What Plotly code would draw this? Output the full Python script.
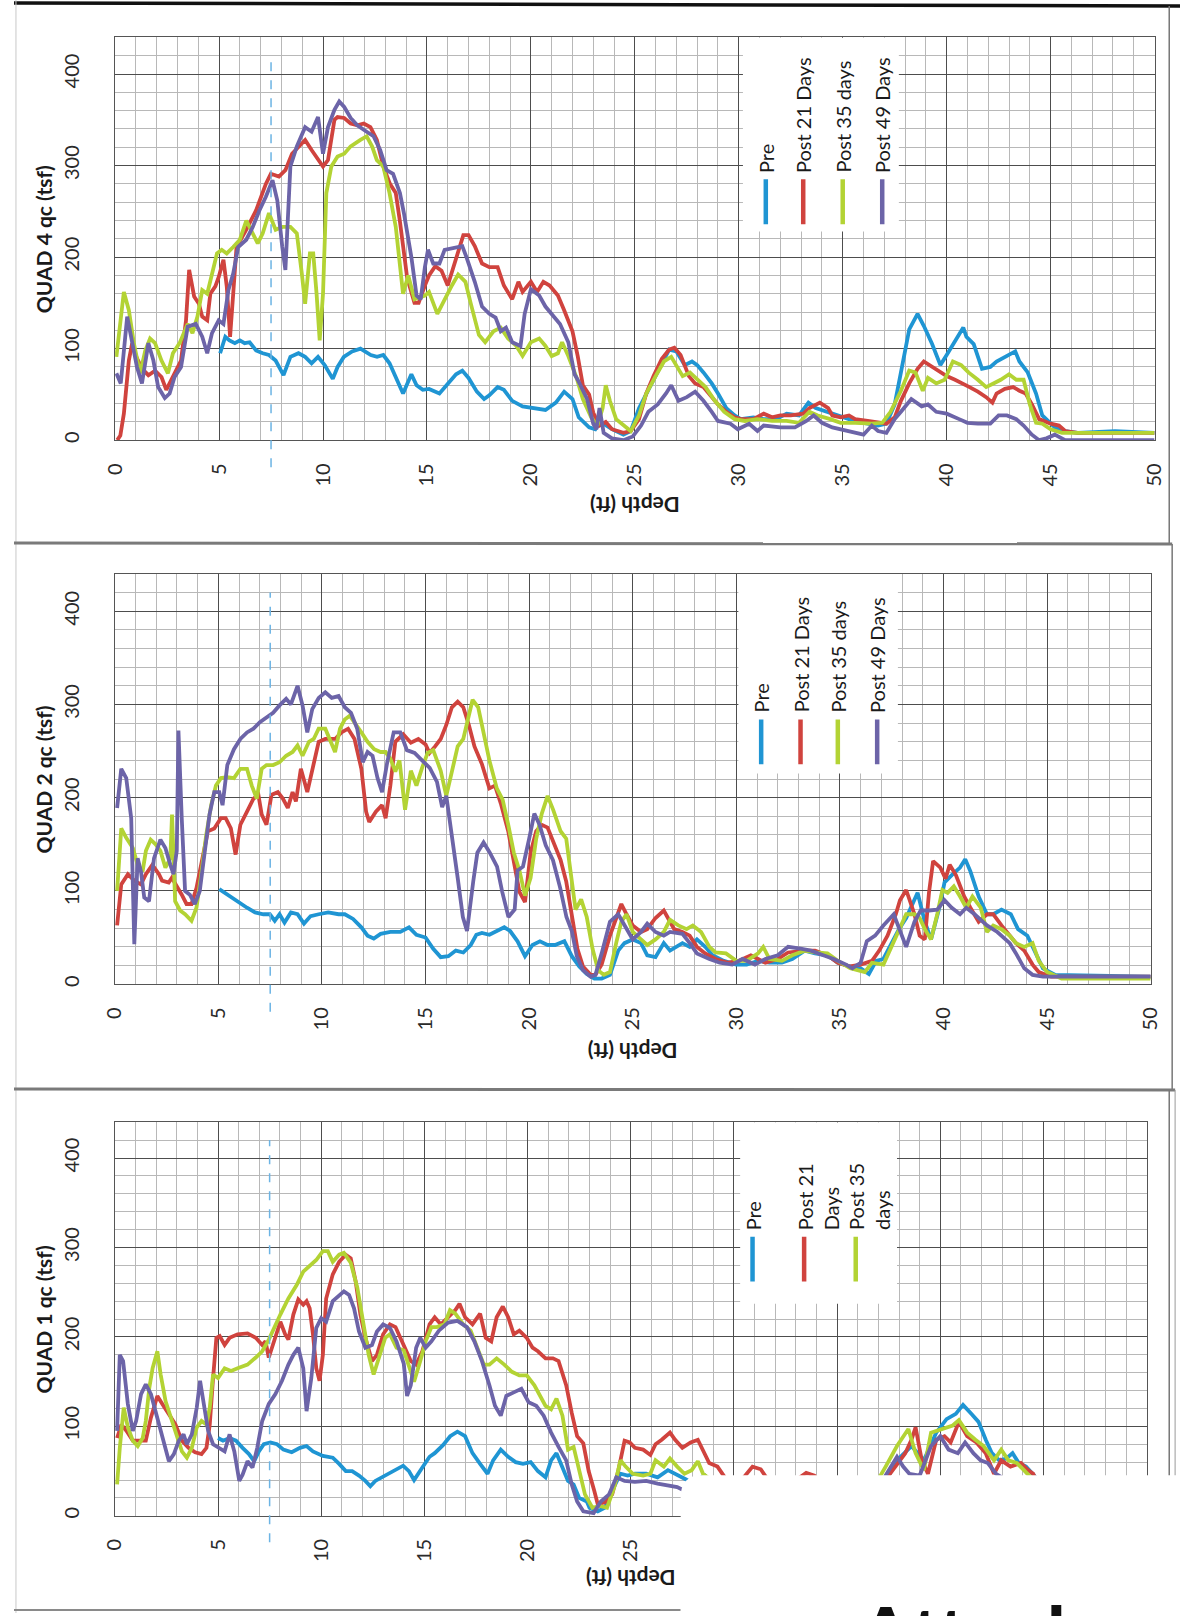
import plotly.graph_objects as go

W, H = 1191, 1616
FONT = "Lato, 'Open Sans', sans-serif"

# ---------------- data ----------------
depth_ticks = list(range(0, 51, 5))
qc_ticks = [0, 100, 200, 300, 400]
series_names = ["Pre", "Post 21 Days", "Post 35 days", "Post 49 Days"]
series_colors = ["#1f95d3", "#d0433e", "#b3d334", "#6c64a8"]
panel_titles = ["QUAD 4 qc (tsf)", "QUAD 2 qc (tsf)", "QUAD 1 qc (tsf)"]
q1_legend_labels = ["Pre", "Post 21<br>Days", "Post 35<br>days"]

# QUAD 4 (depth ft, qc tsf)
q4_pre = [(5.05,95),(5.3,113),(5.5,109),(5.76,106),(6.0,109),(6.23,106),(6.47,107),(6.78,98),(7.1,95),(7.4,93),(7.72,87),(8.1,71),(8.43,91),(8.82,95),(9.14,91),(9.45,84),(9.76,91),(10.08,82),(10.47,67),(10.7,80),(11.0,91),(11.4,97),(11.8,100),(12.3,93),(12.6,91),(12.9,93),(13.2,84),(13.5,69),(13.85,51),(14.25,72),(14.5,60),(14.8,55),(15.1,56),(15.6,51),(16.0,62),(16.4,72),(16.7,76),(17.0,68),(17.4,53),(17.75,45),(18.0,49),(18.4,58),(18.7,55),(19.1,43),(19.6,37),(20.2,35),(20.7,33),(21.2,41),(21.6,53),(22.0,45),(22.3,25),(22.8,14),(23.1,12),(23.35,20),(23.9,12),(24.45,6),(24.8,10),(25.2,35),(25.55,51),(26.1,74),(26.65,99),(27.0,97),(27.4,82),(27.75,86),(28.0,82),(28.3,74),(28.7,62),(29.0,51),(29.4,35),(29.8,27),(30.1,23),(30.7,25),(31.2,23),(31.8,23),(32.3,29),(32.9,27),(33.35,41),(33.7,35),(34.2,31),(34.7,27),(35.3,23),(36.0,19),(36.7,16),(37.1,18),(37.5,39),(37.8,74),(38.2,121),(38.6,138),(38.9,125),(39.3,105),(39.7,82),(40.0,93),(40.4,109),(40.8,123),(40.95,113),(41.3,105),(41.7,78),(42.1,80),(42.4,86),(42.8,91),(43.3,97),(43.5,86),(43.9,74),(44.3,51),(44.6,27),(45.2,14),(45.7,10),(46.3,8),(48.1,10),(50.0,8)]
q4_post21 = [(0.1,0),(0.25,5),(0.42,29),(0.66,87),(0.82,106),(1.0,92),(1.3,78),(1.6,71),(1.92,76),(2.23,69),(2.46,55),(2.86,73),(3.17,87),(3.41,131),(3.56,186),(3.8,157),(4.03,149),(4.19,135),(4.43,131),(4.58,160),(4.82,168),(4.98,178),(5.21,197),(5.37,168),(5.53,113),(5.68,160),(5.84,211),(6.31,230),(6.78,251),(7.25,280),(7.49,291),(7.88,288),(8.19,295),(8.51,313),(9.14,328),(9.45,317),(9.76,306),(10.0,299),(10.24,306),(10.55,350),(10.7,353),(11.02,352),(11.33,346),(11.65,344),(11.96,346),(12.28,342),(12.59,328),(12.9,299),(13.22,280),(13.5,270),(13.7,239),(14.05,177),(14.4,150),(14.6,150),(14.9,169),(15.1,180),(15.4,190),(15.7,185),(16.0,169),(16.4,200),(16.75,224),(17.0,224),(17.3,212),(17.65,193),(18.0,189),(18.4,189),(18.7,169),(19.1,154),(19.4,173),(19.6,162),(20.0,173),(20.3,162),(20.6,173),(20.9,169),(21.3,158),(21.6,142),(22.0,119),(22.25,92),(22.5,60),(22.8,50),(23.0,30),(23.3,16),(23.6,20),(23.9,12),(24.45,8),(24.8,10),(25.2,23),(25.55,51),(25.9,70),(26.3,89),(26.65,99),(26.9,101),(27.2,93),(27.6,70),(27.9,62),(28.3,58),(28.7,47),(29.0,39),(29.4,31),(29.8,25),(30.1,23),(30.7,23),(31.2,29),(31.6,25),(32.0,27),(32.5,27),(33.1,29),(33.4,35),(33.9,41),(34.3,35),(34.5,27),(34.9,25),(35.3,27),(35.6,23),(36.2,21),(36.7,19),(37.1,18),(37.5,25),(37.8,43),(38.2,62),(38.6,78),(38.9,86),(39.3,80),(39.7,74),(40.0,70),(40.4,66),(40.8,62),(41.1,58),(41.5,53),(41.9,47),(42.2,41),(42.4,51),(42.8,56),(43.2,58),(43.5,54),(43.8,51),(44.1,39),(44.45,23),(45.0,18),(45.4,16),(45.7,10),(46.3,8),(50.0,8)]
q4_post35 = [(0.06,91),(0.42,162),(0.66,142),(0.9,106),(1.2,73),(1.45,98),(1.68,111),(1.92,106),(2.23,87),(2.54,73),(2.78,95),(3.1,106),(3.49,127),(3.72,117),(3.96,135),(4.19,164),(4.43,160),(4.66,182),(4.9,204),(5.13,208),(5.37,204),(5.68,211),(6.0,219),(6.31,240),(6.62,226),(6.86,215),(7.1,226),(7.4,248),(7.72,230),(8.04,233),(8.43,233),(8.74,226),(8.98,182),(9.14,149),(9.37,204),(9.53,204),(9.69,160),(9.84,109),(10.0,160),(10.16,270),(10.4,299),(10.7,310),(11.02,313),(11.33,321),(11.8,328),(12.1,332),(12.36,321),(12.59,306),(12.9,299),(13.2,270),(13.5,233),(13.85,160),(14.1,180),(14.4,154),(14.9,158),(15.1,162),(15.5,138),(15.85,154),(16.2,169),(16.5,181),(16.85,173),(17.1,150),(17.5,115),(17.8,107),(18.2,119),(18.55,123),(18.9,111),(19.3,103),(19.6,92),(20.0,107),(20.4,111),(20.7,103),(21.0,92),(21.3,95),(21.5,107),(21.8,92),(22.2,68),(22.5,45),(22.9,25),(23.2,16),(23.45,35),(23.6,60),(23.8,43),(24.1,23),(24.45,16),(24.8,10),(25.2,27),(25.55,51),(26.0,70),(26.4,86),(26.75,91),(27.0,82),(27.3,70),(27.65,74),(28.0,66),(28.4,58),(28.85,43),(29.3,31),(29.8,23),(30.3,21),(30.9,23),(31.6,21),(32.3,21),(32.9,19),(33.4,31),(33.8,27),(34.4,23),(34.9,19),(35.6,19),(36.4,18),(36.9,19),(37.3,31),(37.8,54),(38.2,76),(38.5,74),(38.85,54),(39.1,68),(39.5,62),(39.9,66),(40.3,86),(40.7,82),(41.05,74),(41.5,66),(41.9,58),(42.25,62),(42.6,66),(43.0,72),(43.35,66),(43.7,66),(44.0,39),(44.3,19),(44.6,18),(45.0,12),(45.55,8),(50.0,8)]
q4_post49 = [(0.06,73),(0.27,62),(0.58,135),(0.82,106),(1.05,80),(1.29,62),(1.6,106),(1.84,87),(2.07,58),(2.39,46),(2.62,51),(2.86,69),(3.17,80),(3.49,124),(3.88,127),(4.19,113),(4.43,95),(4.66,117),(4.98,131),(5.21,127),(5.45,164),(5.68,182),(5.92,211),(6.31,219),(6.62,233),(6.94,251),(7.25,266),(7.57,284),(7.8,262),(8.04,211),(8.19,186),(8.43,299),(8.74,321),(9.14,342),(9.45,337),(9.76,353),(10.0,313),(10.24,342),(10.55,361),(10.78,370),(11.02,364),(11.33,352),(11.65,344),(12.1,337),(12.43,332),(12.75,317),(13.06,295),(13.37,291),(13.7,270),(13.9,247),(14.25,200),(14.5,158),(14.7,154),(14.9,189),(15.05,208),(15.3,193),(15.6,193),(15.85,208),(16.3,210),(16.7,212),(16.9,200),(17.3,173),(17.65,146),(18.0,138),(18.3,134),(18.55,119),(18.8,123),(19.1,107),(19.5,103),(19.7,138),(20.0,165),(20.4,158),(20.7,146),(21.1,136),(21.4,127),(21.8,107),(22.1,72),(22.3,64),(22.7,45),(23.0,18),(23.15,12),(23.3,35),(23.5,8),(23.9,2),(24.45,0),(24.9,4),(25.3,16),(25.65,31),(26.1,39),(26.5,51),(26.75,60),(27.1,43),(27.5,47),(27.9,53),(28.3,43),(28.7,31),(29.0,21),(29.6,18),(29.95,12),(30.5,18),(30.9,10),(31.2,16),(32.0,14),(32.7,14),(33.25,21),(33.6,27),(34.0,19),(34.5,14),(35.3,10),(36.0,6),(36.4,16),(36.7,10),(37.1,8),(37.5,23),(37.8,31),(38.3,45),(38.8,37),(39.1,39),(39.5,31),(40.0,29),(40.6,23),(41.0,19),(41.5,18),(42.1,18),(42.5,27),(42.9,27),(43.35,23),(43.7,16),(44.1,6),(44.45,0),(44.8,2),(45.2,6),(45.7,0),(50.0,0)]

# QUAD 2
q2_pre = [(5.04,102),(5.43,96),(5.9,89),(6.38,82),(6.77,77),(7.17,75),(7.48,75),(7.72,68),(7.95,75),(8.19,66),(8.5,77),(8.82,75),(9.13,65),(9.45,73),(9.84,75),(10.3,77),(10.8,75),(11.1,75),(11.5,70),(11.9,61),(12.2,52),(12.5,49),(12.83,54),(13.3,56),(13.78,56),(14.2,61),(14.56,53),(15.0,50),(15.37,38),(15.73,29),(16.1,30),(16.46,36),(16.82,34),(17.18,42),(17.45,53),(17.72,55),(18.08,53),(18.44,57),(18.8,61),(19.08,57),(19.44,46),(19.8,30),(20.16,42),(20.52,46),(20.89,42),(21.25,42),(21.7,46),(22.06,30),(22.42,19),(22.78,11),(23.15,6),(23.5,6),(23.9,10),(24.3,36),(24.6,44),(25.0,48),(25.4,44),(25.7,31),(26.1,29),(26.5,44),(26.8,36),(27.4,44),(27.75,40),(28.1,48),(28.5,40),(28.85,31),(29.4,25),(30.0,21),(30.5,21),(31.05,25),(31.6,23),(32.2,23),(32.7,27),(33.3,36),(33.8,33),(34.4,31),(34.9,23),(35.5,19),(36.0,17),(36.4,11),(36.75,25),(37.1,27),(37.5,44),(37.85,59),(38.2,71),(38.5,86),(38.75,98),(39.1,67),(39.4,48),(39.8,82),(40.05,109),(40.4,117),(40.8,125),(41.05,134),(41.3,121),(41.7,94),(42.1,75),(42.4,75),(42.8,80),(43.25,75),(43.6,59),(44.05,52),(44.4,36),(44.8,17),(45.4,10),(50.0,8)]
q2_post21 = [(0.11,63),(0.31,107),(0.63,118),(0.94,111),(1.26,107),(1.5,118),(1.81,128),(2.13,118),(2.28,111),(2.6,109),(2.75,114),(3.0,105),(3.23,96),(3.46,86),(3.7,86),(3.94,103),(4.25,135),(4.49,164),(4.8,167),(5.12,178),(5.35,178),(5.6,167),(5.83,139),(6.06,171),(6.38,185),(6.69,199),(6.93,203),(7.09,182),(7.32,171),(7.56,203),(7.87,206),(8.11,199),(8.35,189),(8.58,206),(8.74,196),(8.98,231),(9.29,206),(9.53,231),(9.84,260),(10.16,263),(10.63,263),(10.94,270),(11.26,274),(11.57,263),(11.9,231),(12.13,185),(12.28,174),(12.6,185),(12.9,192),(13.07,178),(13.3,213),(13.54,260),(13.92,268),(14.29,259),(14.65,263),(15.0,257),(15.19,248),(15.46,255),(15.73,263),(16.0,278),(16.27,297),(16.55,303),(16.82,297),(17.09,278),(17.36,255),(17.72,236),(18.08,210),(18.35,213),(18.63,194),(18.99,164),(19.26,133),(19.53,99),(19.8,88),(20.07,141),(20.34,164),(20.61,171),(20.89,168),(21.16,152),(21.52,133),(21.79,110),(22.06,72),(22.33,38),(22.6,19),(22.97,10),(23.2,10),(23.5,21),(23.9,52),(24.3,75),(24.45,86),(24.7,75),(25.0,63),(25.4,56),(25.7,59),(26.1,71),(26.5,79),(26.7,71),(27.0,59),(27.4,56),(27.75,52),(28.1,40),(28.5,33),(29.0,27),(29.6,23),(30.1,25),(30.7,31),(31.05,27),(31.4,23),(32.0,27),(32.5,34),(33.3,36),(33.8,36),(34.4,31),(34.9,23),(35.5,19),(36.0,21),(36.55,25),(36.9,36),(37.3,52),(37.7,75),(37.9,90),(38.2,101),(38.6,75),(38.85,52),(39.1,48),(39.3,98),(39.5,132),(39.85,125),(40.1,113),(40.3,128),(40.6,117),(41.0,94),(41.3,82),(41.7,67),(42.1,75),(42.4,75),(42.8,63),(43.2,52),(43.5,44),(43.9,36),(44.3,21),(44.6,13),(45.2,8),(50.0,8)]
q2_post35 = [(0.11,100),(0.31,167),(0.55,157),(0.87,146),(1.1,128),(1.34,121),(1.5,143),(1.73,155),(1.97,150),(2.2,143),(2.44,125),(2.68,135),(2.76,182),(2.91,89),(3.15,79),(3.39,75),(3.7,68),(3.94,82),(4.17,118),(4.41,160),(4.65,192),(4.88,213),(5.12,221),(5.43,222),(5.75,221),(6.06,231),(6.38,231),(6.61,213),(6.85,199),(7.09,231),(7.32,235),(7.64,235),(7.95,238),(8.27,245),(8.58,249),(8.82,256),(9.06,245),(9.37,260),(9.6,263),(9.84,274),(10.16,274),(10.4,260),(10.63,249),(10.87,274),(11.1,284),(11.34,288),(11.57,281),(11.9,270),(12.2,260),(12.52,252),(12.83,249),(13.07,249),(13.3,242),(13.54,228),(13.74,240),(14.01,187),(14.29,229),(14.56,213),(14.83,232),(15.1,248),(15.37,251),(15.73,229),(16.0,202),(16.27,229),(16.55,255),(16.82,263),(17.09,290),(17.27,305),(17.54,297),(17.81,270),(18.08,240),(18.44,210),(18.72,198),(18.99,171),(19.26,141),(19.53,122),(19.8,95),(20.07,114),(20.34,156),(20.61,183),(20.89,202),(21.16,187),(21.52,164),(21.79,156),(22.06,110),(22.24,80),(22.51,91),(22.78,72),(23.06,38),(23.33,15),(23.6,10),(23.9,13),(24.2,44),(24.45,67),(24.7,75),(25.0,56),(25.4,48),(25.7,42),(26.1,48),(26.5,56),(26.8,69),(27.2,63),(27.6,59),(27.9,63),(28.3,56),(28.7,40),(29.0,34),(29.5,33),(30.0,25),(30.5,25),(31.05,33),(31.3,40),(31.6,27),(32.2,25),(32.7,31),(33.3,36),(33.8,34),(34.4,33),(34.9,25),(35.5,17),(36.2,13),(36.55,23),(37.1,21),(37.5,40),(37.85,59),(38.2,75),(38.6,75),(38.85,71),(39.1,59),(39.4,48),(39.7,75),(39.95,101),(40.2,98),(40.5,105),(40.8,94),(41.1,82),(41.4,94),(41.8,82),(42.1,56),(42.4,63),(42.8,59),(43.2,52),(43.5,44),(43.9,40),(44.3,44),(44.6,25),(45.0,13),(45.7,6),(50.0,6)]
q2_post49 = [(0.11,189),(0.31,231),(0.55,221),(0.79,178),(0.94,43),(1.1,135),(1.26,121),(1.42,93),(1.65,89),(1.89,135),(2.2,155),(2.44,146),(2.68,128),(2.83,118),(2.99,143),(3.07,272),(3.23,178),(3.39,100),(3.62,96),(3.86,86),(4.1,100),(4.33,143),(4.57,182),(4.8,206),(5.04,206),(5.2,192),(5.43,235),(5.75,252),(6.06,263),(6.38,270),(6.69,274),(7.0,281),(7.32,286),(7.64,291),(7.95,299),(8.27,306),(8.5,300),(8.82,320),(9.06,299),(9.29,270),(9.53,295),(9.84,307),(10.16,313),(10.47,307),(10.8,309),(11.1,297),(11.4,291),(11.7,274),(11.97,238),(12.2,249),(12.44,245),(12.68,221),(12.9,206),(13.15,238),(13.46,270),(13.78,270),(14.1,251),(14.47,248),(14.83,240),(15.2,232),(15.55,217),(15.8,190),(16.0,202),(16.3,156),(16.55,114),(16.8,72),(17.0,57),(17.3,110),(17.5,141),(17.8,152),(18.1,141),(18.45,126),(18.7,99),(19.0,72),(19.3,80),(19.44,122),(19.7,126),(20.0,156),(20.25,183),(20.5,171),(20.8,149),(21.15,133),(21.5,103),(21.8,72),(22.06,57),(22.3,30),(22.6,15),(22.97,8),(23.2,10),(23.5,33),(23.9,67),(24.3,75),(24.6,63),(25.0,48),(25.4,56),(25.7,65),(26.1,56),(26.5,52),(26.8,56),(27.4,54),(27.75,44),(28.1,33),(28.7,27),(29.2,23),(29.8,21),(30.3,27),(30.9,21),(31.4,27),(32.0,31),(32.5,40),(33.1,38),(33.6,36),(34.2,31),(34.7,27),(35.3,21),(35.6,17),(36.0,23),(36.3,46),(36.7,52),(37.1,63),(37.6,75),(37.9,56),(38.2,40),(38.6,67),(38.9,79),(39.3,79),(39.7,80),(40.05,90),(40.4,82),(40.8,75),(41.1,82),(41.5,75),(42.1,63),(42.6,56),(43.2,44),(43.5,33),(43.9,17),(44.3,10),(44.8,8),(50.0,8)]

# QUAD 1
q1_pre = [(5.0,87),(5.24,84),(5.56,87),(5.87,84),(6.19,76),(6.5,69),(6.75,61),(6.98,72),(7.22,80),(7.54,82),(7.86,80),(8.17,74),(8.57,71),(8.97,76),(9.29,78),(9.6,72),(10.08,67),(10.56,65),(10.87,58),(11.19,50),(11.5,50),(11.83,45),(12.14,39),(12.38,33),(12.62,39),(12.94,43),(13.25,48),(13.57,52),(13.97,56),(14.25,50),(14.5,40),(14.9,54),(15.25,66),(15.5,70),(15.9,79),(16.25,89),(16.6,94),(16.97,89),(17.33,70),(17.7,58),(18.06,47),(18.33,62),(18.7,74),(19.06,66),(19.42,60),(19.78,58),(20.15,60),(20.5,50),(20.87,43),(21.14,62),(21.4,70),(21.69,54),(21.96,39),(22.23,35),(22.5,20),(22.87,16),(23.0,9),(23.4,5),(23.75,9),(24.1,28),(24.5,47),(24.85,45),(25.2,47),(25.75,47),(26.3,43),(26.8,51),(27.15,47),(27.5,43),(27.9,38),(28.25,41),(28.6,45),(29.0,35),(29.6,25),(30.3,22),(31.0,22),(32.0,20),(33.0,28),(33.8,30),(34.5,25),(35.3,20),(36.2,15),(37.0,25),(37.5,45),(37.9,62),(38.6,78),(39.2,62),(39.8,93),(40.3,108),(40.75,114),(41.1,124),(41.5,114),(41.85,105),(42.2,85),(42.5,70),(42.85,62),(43.2,64),(43.5,70),(43.8,59),(44.15,55),(44.5,47),(44.7,41),(45.2,15),(45.7,8),(50.0,8)]
q1_post21 = [(0.11,87),(0.32,102),(0.56,95),(0.87,84),(1.19,84),(1.5,84),(1.75,110),(2.06,134),(2.3,125),(2.62,113),(2.94,102),(3.25,84),(3.57,76),(3.89,71),(4.2,69),(4.44,76),(4.6,102),(4.76,154),(4.92,199),(5.08,201),(5.32,191),(5.56,199),(5.95,203),(6.43,204),(6.83,199),(7.14,191),(7.3,195),(7.46,177),(7.62,188),(7.86,206),(8.02,217),(8.25,203),(8.41,197),(8.65,225),(8.89,242),(9.13,236),(9.29,240),(9.44,232),(9.6,203),(9.76,165),(9.92,151),(10.08,180),(10.24,243),(10.56,270),(10.87,284),(11.19,292),(11.43,288),(11.67,262),(11.9,225),(12.14,199),(12.46,173),(12.7,180),(13.0,203),(13.33,214),(13.6,211),(13.97,192),(14.34,173),(14.6,169),(14.9,184),(15.25,214),(15.5,222),(15.8,214),(16.15,222),(16.5,230),(16.7,237),(16.97,222),(17.33,214),(17.7,226),(17.97,199),(18.24,195),(18.5,222),(18.8,234),(19.06,222),(19.33,203),(19.6,207),(19.96,199),(20.24,188),(20.5,184),(20.87,176),(21.23,176),(21.5,173),(21.87,146),(22.14,115),(22.4,89),(22.7,81),(22.96,50),(23.23,28),(23.4,13),(23.75,15),(24.1,24),(24.4,51),(24.7,84),(24.95,82),(25.2,76),(25.6,74),(25.95,68),(26.2,80),(26.5,85),(26.9,93),(27.15,85),(27.5,76),(27.9,82),(28.25,85),(28.5,74),(28.8,59),(29.2,55),(29.45,47),(29.8,35),(30.3,38),(30.9,55),(31.3,52),(31.8,35),(32.4,30),(33.0,40),(33.5,48),(33.9,45),(34.5,30),(35.2,25),(36.0,20),(36.6,25),(37.0,35),(37.5,45),(38.3,70),(38.6,85),(38.8,99),(39.1,62),(39.4,47),(39.8,85),(40.2,89),(40.5,82),(40.9,105),(41.3,89),(41.75,82),(42.2,70),(42.6,47),(42.95,62),(43.4,55),(43.9,59),(44.25,51),(44.5,47),(44.9,25),(45.4,12),(46.0,8),(50.0,8)]
q1_post35 = [(0.11,35),(0.24,76),(0.43,121),(0.63,99),(0.87,84),(1.11,78),(1.35,87),(1.5,106),(1.67,143),(1.83,165),(2.06,184),(2.22,158),(2.46,128),(2.78,106),(3.02,87),(3.25,72),(3.49,65),(3.73,76),(3.97,99),(4.2,106),(4.44,102),(4.6,121),(4.76,158),(5.0,154),(5.32,165),(5.63,162),(5.95,165),(6.43,169),(6.83,177),(7.14,184),(7.46,197),(7.7,208),(8.02,225),(8.41,243),(8.81,258),(9.13,273),(9.44,279),(9.76,286),(10.08,296),(10.32,296),(10.56,284),(10.87,292),(11.1,294),(11.43,283),(11.75,255),(11.98,221),(12.3,180),(12.54,158),(12.86,180),(13.1,199),(13.33,203),(13.65,188),(14.0,185),(14.34,161),(14.5,150),(14.8,173),(15.06,195),(15.34,211),(15.6,211),(15.97,214),(16.24,230),(16.5,226),(16.88,214),(17.24,207),(17.6,184),(17.88,169),(18.15,169),(18.5,176),(18.87,169),(19.24,161),(19.6,157),(19.96,157),(20.33,146),(20.6,134),(20.87,123),(21.14,119),(21.4,131),(21.69,112),(21.96,74),(22.23,77),(22.5,51),(22.78,24),(23.14,9),(23.5,11),(23.85,9),(24.2,32),(24.5,62),(24.75,55),(25.1,47),(25.6,45),(25.95,47),(26.2,62),(26.6,55),(26.9,64),(27.25,55),(27.6,47),(27.95,51),(28.25,61),(28.5,47),(29.0,38),(29.6,30),(30.3,28),(31.0,30),(31.8,28),(32.5,25),(33.2,32),(33.8,35),(34.5,28),(35.3,22),(36.0,18),(36.6,25),(37.0,40),(37.35,55),(37.9,78),(38.45,97),(38.8,70),(39.2,51),(39.55,93),(40.1,97),(40.6,101),(40.9,107),(41.3,93),(41.7,85),(42.1,78),(42.6,62),(42.95,74),(43.3,62),(43.7,59),(44.05,51),(44.5,40),(45.0,20),(45.5,10),(46.0,8),(50.0,8)]
q1_post49 = [(0.11,95),(0.24,180),(0.4,173),(0.63,125),(0.87,95),(1.03,106),(1.27,136),(1.5,147),(1.75,136),(1.98,117),(2.3,87),(2.62,61),(2.86,69),(3.1,84),(3.33,91),(3.49,80),(3.73,91),(3.97,121),(4.13,151),(4.29,125),(4.52,95),(4.76,80),(5.08,76),(5.32,72),(5.56,91),(5.79,72),(6.03,39),(6.19,46),(6.43,61),(6.67,54),(6.9,76),(7.14,106),(7.46,125),(7.78,136),(8.1,151),(8.41,169),(8.65,180),(8.89,188),(9.13,165),(9.29,117),(9.52,154),(9.76,210),(10.0,221),(10.24,217),(10.56,240),(10.87,247),(11.1,251),(11.35,247),(11.59,232),(11.83,206),(12.14,188),(12.46,191),(12.7,206),(13.0,214),(13.33,210),(13.65,195),(14.0,170),(14.16,134),(14.34,146),(14.6,188),(14.8,199),(15.06,188),(15.34,195),(15.7,207),(16.15,216),(16.6,218),(17.06,211),(17.42,195),(17.79,173),(18.15,146),(18.42,123),(18.7,112),(18.97,134),(19.33,138),(19.7,142),(20.05,127),(20.42,123),(20.78,112),(21.14,93),(21.5,77),(21.87,62),(22.14,35),(22.4,16),(22.7,5),(23.05,3),(23.2,3),(23.55,16),(23.95,24),(24.3,43),(24.7,39),(25.2,38),(25.75,39),(26.3,36),(26.8,34),(27.25,32),(27.6,28),(28.2,25),(29.0,20),(30.0,15),(31.0,15),(32.0,18),(33.0,22),(34.0,20),(35.0,15),(36.0,10),(36.8,20),(37.35,45),(37.9,66),(38.2,55),(38.5,47),(39.0,45),(39.55,78),(40.0,89),(40.4,74),(40.85,70),(41.2,82),(41.6,70),(41.95,62),(42.3,59),(42.7,47),(43.2,40),(43.8,30),(44.3,15),(45.0,5),(50.0,5)]

marker_depth = 7.5

# ---------------- layout geometry (pixels on the page) ----------------
panels = [
    dict(title=panel_titles[0], series=[q4_pre, q4_post21, q4_post35, q4_post49],
         labels=series_names, px_x=(103.3, 1165), px_y=(37.5, 441), depth_title_y=507,
         leg_x=[31.3, 33.1, 35.0, 36.9], leg_line=(236, 285), leg_text=290,
         leg_box=(30.2, 37.7, 228)),
    dict(title=panel_titles[1], series=[q2_pre, q2_post21, q2_post35, q2_post49],
         labels=series_names, px_x=(103, 1161), px_y=(575, 986), depth_title_y=1054,
         leg_x=[31.2, 33.1, 34.9, 36.8], leg_line=(236, 284), leg_text=289,
         leg_box=(30.1, 37.8, 226)),
    dict(title=panel_titles[2], series=[q1_pre, q1_post21, q1_post35, q1_post49],
         labels=q1_legend_labels, px_x=(103, 1157), px_y=(1124.4, 1518.6), depth_title_y=1582,
         leg_x=[30.9, 33.4, 35.9], leg_text_x=[30.9, 34.05, 36.55], leg_line=(262, 312), leg_text=317,
         leg_box=(30.3, 37.9, 237)),
]

def px2x(x):
    return x / W

def px2y(y):
    return 1 - y / H

fig = go.Figure()
shapes = []
annotations = []
layout_axes = {}

for i, p in enumerate(panels):
    n = i + 1
    xa = "x" if n == 1 else f"x{n}"
    ya = "y" if n == 1 else f"y{n}"
    for s_i, pairs in enumerate(p["series"]):
        fig.add_trace(go.Scatter(
            x=[d for d, _ in pairs], y=[q for _, q in pairs],
            mode="lines", line=dict(color=series_colors[s_i], width=3.8),
            name=series_names[s_i], showlegend=False, xaxis=xa, yaxis=ya,
            hoverinfo="skip"))
    xd = [px2x(p["px_x"][0]), px2x(p["px_x"][1])]
    yd = [px2y(p["px_y"][1]), px2y(p["px_y"][0])]
    layout_axes["xaxis" if n == 1 else f"xaxis{n}"] = dict(
        domain=xd, anchor=ya, range=[0, 50], tickvals=depth_ticks,
        ticktext=[str(t) for t in depth_ticks], tickangle=-90, ticks="",
        ticklabelstandoff=14,
        showgrid=True, gridcolor="#4d4d4d", gridwidth=1.3, zeroline=False,
        showline=True, mirror=True, linecolor="#555", linewidth=1.2,
        minor=dict(dtick=1, tick0=0, showgrid=True, gridcolor="#b8b8b8", gridwidth=1),
        tickfont=dict(family=FONT, size=20, color="#2a2a2a"), fixedrange=True)
    layout_axes["yaxis" if n == 1 else f"yaxis{n}"] = dict(
        domain=yd, anchor=xa, range=[0, 440], tickvals=qc_ticks,
        ticktext=[str(t) for t in qc_ticks], tickangle=-90, ticks="",
        ticklabelstandoff=27,
        showgrid=True, gridcolor="#4d4d4d", gridwidth=1.3, zeroline=False,
        showline=True, mirror=True, linecolor="#555", linewidth=1.2,
        minor=dict(dtick=20, tick0=0, showgrid=True, gridcolor="#b8b8b8", gridwidth=1),
        tickfont=dict(family=FONT, size=20, color="#2a2a2a"), fixedrange=True)

    # axis titles
    annotations.append(dict(text=f"<b>{p['title']}</b>", xref="paper", yref="paper",
                            x=px2x(30), y=(yd[0] + yd[1]) / 2, textangle=-90,
                            xanchor="center", yanchor="middle",
                            showarrow=False, font=dict(family=FONT, size=21, color="#1a1a1a")))
    annotations.append(dict(text="<b>Depth (ft)</b>", xref="paper", yref="paper",
                            x=(xd[0] + xd[1]) / 2, y=px2y(p["depth_title_y"]), textangle=180,
                            xanchor="center", yanchor="middle",
                            showarrow=False, font=dict(family=FONT, size=21, color="#1a1a1a")))

    # dashed reference depth
    shapes.append(dict(type="line", xref=xa, yref=f"{ya} domain", x0=marker_depth, x1=marker_depth,
                       y0=-0.067, y1=0.955, line=dict(color="#6cb4e4", width=1.5, dash="dash")))

    # custom rotated legend
    bx0, bx1, by0 = p["leg_box"]
    shapes.append(dict(type="rect", xref=xa, yref=ya, x0=bx0, x1=bx1, y0=by0, y1=440,
                       fillcolor="white", line=dict(width=0)))
    text_x = p.get("leg_text_x", p["leg_x"])
    for k, lab in enumerate(p["labels"]):
        lx = p["leg_x"][k]
        shapes.append(dict(type="line", xref=xa, yref=ya, x0=lx, x1=lx,
                           y0=p["leg_line"][0], y1=p["leg_line"][1],
                           line=dict(color=series_colors[k], width=4.5)))
        annotations.append(dict(text=lab, xref=xa, yref=ya, x=text_x[k], y=p["leg_text"],
                                xanchor="center", yanchor="bottom", textangle=-90, align="left",
                                showarrow=False, font=dict(family=FONT, size=20, color="#1a1a1a")))

# ---------------- page decorations (scan) ----------------
def seg(x0, y0, x1, y1, color, width):
    return dict(type="line", xref="paper", yref="paper", x0=px2x(x0), y0=px2y(y0),
                x1=px2x(x1), y1=px2y(y1), line=dict(color=color, width=width))

shapes += [
    seg(0, 3, 1191, 6, "#111111", 3.5),
    seg(2, 0, 2, 1616, "#c8c8c8", 1),
    seg(1180, 6, 1180, 544, "#777777", 1.5),
    seg(0, 544, 1183, 545, "#7a7a7a", 3),
    seg(1183, 545, 1183, 1091, "#777777", 1.5),
    seg(0, 1091, 1186, 1092, "#7a7a7a", 3),
    seg(1180, 1092, 1180, 1480, "#777777", 1.5),
    seg(1186, 1092, 1186, 1480, "#999999", 1),
    seg(0, 1613, 681, 1613, "#8a8a8a", 2),
]
# white paper cover over the lower right corner
cx0, cy0, r = 681, 1478, 22
path = (f"M {px2x(cx0)},{px2y(1616)} L {px2x(cx0)},{px2y(cy0 + r)} "
        f"Q {px2x(cx0)},{px2y(cy0)} {px2x(cx0 + r)},{px2y(cy0)} "
        f"L {px2x(1191)},{px2y(cy0)} L {px2x(1191)},{px2y(1616)} Z")
shapes.append(dict(type="path", xref="paper", yref="paper", path=path,
                   fillcolor="white", line=dict(width=0)))
annotations.append(dict(text="<b>Attachment</b>", xref="paper", yref="paper",
                        x=px2x(859), y=px2y(1587), xanchor="left", yanchor="top",
                        showarrow=False, font=dict(family=FONT, size=80, color="#111111")))

fig.update_layout(
    width=W, height=H, autosize=False,
    margin=dict(l=0, r=0, t=0, b=0),
    paper_bgcolor="white", plot_bgcolor="white",
    showlegend=False, shapes=shapes, annotations=annotations,
    font=dict(family=FONT),
    **layout_axes)

fig.write_html("out.html", config={"displayModeBar": False, "responsive": False},
               post_script="document.body.style.margin='0px';document.body.style.overflow='hidden';")
